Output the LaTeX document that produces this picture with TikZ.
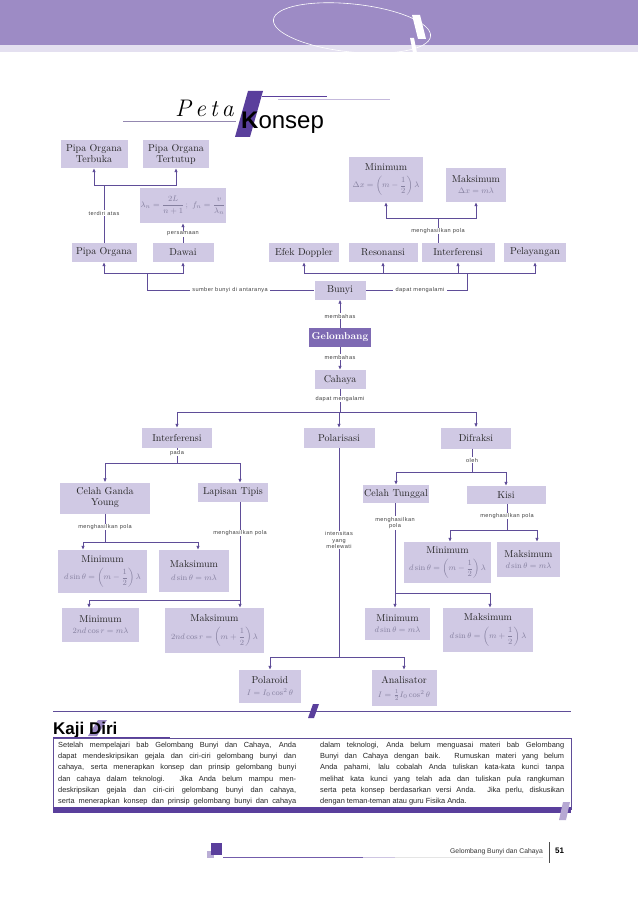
\documentclass[tikz,border=0pt]{standalone}
\usepackage{amsmath}
\usepackage{fontspec}
\setsansfont{Liberation Sans}
\newfontfamily\lblfont[LetterSpace=8]{Liberation Sans}
\usetikzlibrary{arrows.meta}
\definecolor{band}{HTML}{9D8BC5}
\definecolor{bandlight}{HTML}{E4E0F0}
\definecolor{boxfill}{HTML}{D0C9E4}
\definecolor{gelfill}{HTML}{7E6AB3}
\definecolor{linec}{HTML}{5F4D98}
\definecolor{dk}{HTML}{5A3F9C}
\definecolor{formc}{HTML}{85809F}
\newcommand{\fml}[1]{{\fontsize{8}{9}\selectfont\color{formc}$#1$}}
\begin{document}
\begin{tikzpicture}[x=1pt,y=-1pt,
 box/.style={fill=boxfill, inner sep=1pt, align=center, font=\fontsize{10}{11}\selectfont, text=black!85},
 lbl/.style={fill=white, inner xsep=2.5pt, inner ysep=0.8pt, font=\lblfont\fontsize{5.6}{6.6}\selectfont, text=black!75, align=center},
 conn/.style={draw=linec, line width=0.9pt},
 arr/.style={conn, -{Latex[length=4pt,width=3.6pt]}}]
\useasboundingbox (0,0) rectangle (638,912);
\fill[white] (0,0) rectangle (638,912);
% header
\fill[band] (0,0) rectangle (638,45);
\fill[bandlight] (0,45) rectangle (638,52);
\begin{scope}
\clip (0,0) rectangle (638,53);
\draw[white, line width=0.6pt, rotate around={-6:(352,28)}] (352,28) ellipse [x radius=79, y radius=24];
\end{scope}
\fill[white] (412,15) -- (420,15) -- (426,39) -- (418,39) -- cycle;
\fill[white] (410,38) -- (414,38) -- (417,53) -- (413,53) -- cycle;
% title
\draw[band!70!gray, line width=0.8pt] (123,121) -- (236,121);
\draw[band!60, line width=0.8pt] (278,99) -- (390,99);
\draw[dk, line width=0.8pt] (262,96) -- (327,96);
\fill[dk] (248,91) -- (263,91) -- (250,137) -- (235,137) -- cycle;
\node[anchor=base west, inner sep=0pt, font=\fontsize{24}{24}\selectfont\itshape] (peta) at (175,117) {P\hspace{4pt}e\hspace{4pt}t\hspace{4pt}a};
\node[anchor=base west, inner sep=0pt, font=\sffamily\fontsize{24}{24}\selectfont] (kons) at (241,129) {\textbf{K}onsep};
% nodes
\node[box, minimum width=67pt, minimum height=28pt] (pot) at (94,154) {Pipa Organa\\Terbuka};
\node[box, minimum width=66pt, minimum height=28pt] (pott) at (176,154) {Pipa Organa\\Tertutup};
\node[box, minimum width=81pt, minimum height=35pt] (fdawai) at (183,205.5) {\fml{\lambda_n=\dfrac{2L}{n+1}\,;\ f_n=\dfrac{v}{\lambda_n}}};
\node[box, minimum width=65pt, minimum height=19pt] (po) at (104,252.5) {Pipa Organa};
\node[box, minimum width=61pt, minimum height=19pt] (dawai) at (183,252.5) {Dawai};
\node[box, minimum width=70pt, minimum height=19pt] (efek) at (304,252.5) {Efek Doppler};
\node[box, minimum width=69pt, minimum height=19pt] (reso) at (383,252.5) {Resonansi};
\node[box, minimum width=73pt, minimum height=19pt] (intf1) at (458,252.5) {Interferensi};
\node[box, minimum width=62pt, minimum height=19pt] (pela) at (535,252.5) {Pelayangan};
\node[box, minimum width=74pt, minimum height=45pt] (min1) at (386,179.5) {Minimum\\[5pt]\fml{\Delta x=\left(m-\dfrac{1}{2}\right)\lambda}};
\node[box, minimum width=60pt, minimum height=34pt] (maks1) at (476,185) {Maksimum\\\fml{\Delta x=m\lambda}};
\node[box, minimum width=51pt, minimum height=19pt] (bunyi) at (340,290) {Bunyi};
\node[box, fill=gelfill, text=white, font=\bfseries\fontsize{10}{11}\selectfont, minimum width=62pt, minimum height=19pt] (gel) at (340,337.5) {Gelombang};
\node[box, minimum width=51pt, minimum height=19pt] (cahaya) at (340,379.5) {Cahaya};
\node[box, minimum width=70pt, minimum height=20pt] (intf2) at (177,438) {Interferensi};
\node[box, minimum width=71pt, minimum height=20pt] (polar) at (339,438) {Polarisasi};
\node[box, minimum width=70pt, minimum height=21pt] (difr) at (476,438) {Difraksi};
\node[box, minimum width=90pt, minimum height=31pt] (cgy) at (105,498) {Celah Ganda\\Young};
\node[box, minimum width=70pt, minimum height=19pt] (lt) at (233,492.5) {Lapisan Tipis};
\node[box, minimum width=65pt, minimum height=18pt] (ct) at (396,494) {Celah Tunggal};
\node[box, minimum width=79pt, minimum height=18pt] (kisi) at (506,495) {Kisi};
\node[box, minimum width=89pt, minimum height=43pt] (mincgy) at (102.5,571.5) {Minimum\\[5pt]\fml{d\sin\theta=\left(m-\dfrac{1}{2}\right)\lambda}};
\node[box, minimum width=70pt, minimum height=42pt] (makscgy) at (194,571) {Maksimum\\[2pt]\fml{d\sin\theta=m\lambda}};
\node[box, minimum width=77pt, minimum height=34pt] (minlt) at (100.5,625) {Minimum\\\fml{2nd\cos r=m\lambda}};
\node[box, minimum width=99pt, minimum height=45pt] (makslt) at (214.5,630.5) {Maksimum\\[5pt]\fml{2nd\cos r=\left(m+\dfrac{1}{2}\right)\lambda}};
\node[box, minimum width=87pt, minimum height=41pt] (mink) at (447.5,562.5) {Minimum\\[5pt]\fml{d\sin\theta=\left(m-\dfrac{1}{2}\right)\lambda}};
\node[box, minimum width=63pt, minimum height=35pt] (maksk) at (528.5,559.5) {Maksimum\\\fml{d\sin\theta=m\lambda}};
\node[box, minimum width=65pt, minimum height=32pt] (minct) at (397.5,624) {Minimum\\\fml{d\sin\theta=m\lambda}};
\node[box, minimum width=90pt, minimum height=44pt] (maksct) at (488,630) {Maksimum\\[5pt]\fml{d\sin\theta=\left(m+\dfrac{1}{2}\right)\lambda}};
\node[box, minimum width=62pt, minimum height=33pt] (polaroid) at (270,686.5) {Polaroid\\[1pt]\fml{I=I_0\cos^2\theta}};
\node[box, minimum width=65pt, minimum height=36pt] (anal) at (404,688) {Analisator\\[3pt]\fml{I=\frac{1}{2}I_0\cos^2\theta}};
% connectors
\coordinate (b1) at (104,185);
\draw[conn] (po.north) -- (b1);
\draw[arr] (b1) -| (pot.south);
\draw[arr] (b1) -| (pott.south);
\draw[arr] (dawai.north) -- (fdawai.south);
\coordinate (b2) at (147,273);
\draw[arr] (b2) -| (po.south);
\draw[arr] (b2) -| (dawai.south);
\draw[conn] (b2) |- (bunyi.west);
\coordinate (b3) at (467,273);
\draw[arr] (b3) -| (efek.south);
\draw[arr] (b3) -| (reso.south);
\draw[arr] (b3) -| (intf1.south);
\draw[arr] (b3) -| (pela.south);
\draw[conn] (b3) |- (bunyi.east);
\coordinate (b4) at (438,218);
\draw[conn] (438,0 |- intf1.north) -- (b4);
\draw[arr] (b4) -| (min1.south);
\draw[arr] (b4) -| (maks1.south);
\draw[arr] (gel.north) -- (bunyi.south);
\draw[arr] (gel.south) -- (cahaya.north);
\coordinate (b5) at (340,412);
\draw[conn] (cahaya.south) -- (b5);
\draw[arr] (b5) -| (intf2.north);
\draw[arr] (b5) -| (difr.north);
\draw[arr] (b5) -| (polar.north);
\coordinate (b6) at (177,463);
\draw[conn] (intf2.south) -- (b6);
\draw[arr] (b6) -| (cgy.north);
\draw[arr] (b6) -| (240,0 |- lt.north);
\coordinate (b7) at (105,542);
\draw[conn] (cgy.south) -- (b7);
\draw[arr] (b7) -| (83,0 |- mincgy.north);
\draw[arr] (b7) -| (198,0 |- makscgy.north);
\coordinate (b8) at (240,600);
\draw[conn] (240,0 |- lt.south) -- (b8);
\draw[arr] (b8) -| (89,0 |- minlt.north);
\draw[arr] (b8) -- (240,0 |- makslt.north);
\coordinate (b9) at (339,657);
\draw[conn] (polar.south) -- (b9);
\draw[arr] (b9) -| (polaroid.north);
\draw[arr] (b9) -| (anal.north);
\coordinate (b10) at (472,472);
\draw[conn] (472,0 |- difr.south) -- (b10);
\draw[arr] (b10) -| (ct.north);
\draw[arr] (b10) -| (kisi.north);
\coordinate (b11) at (395,593);
\draw[conn] (395,0 |- ct.south) -- (b11);
\draw[arr] (b11) -- (395,0 |- minct.north);
\draw[arr] (b11) -| (490,0 |- maksct.north);
\coordinate (b12) at (507,530);
\draw[conn] (507,0 |- kisi.south) -- (b12);
\draw[arr] (b12) -| (450,0 |- mink.north);
\draw[arr] (b12) -| (537,0 |- maksk.north);
% labels
\node[lbl] (l1) at (104,213) {terdiri atas};
\node[lbl] (l2) at (183,234) {persamaan};
\node[lbl] (l3) at (230,290) {sumber bunyi di antaranya};
\node[lbl] (l4) at (420,290) {dapat mengalami};
\node[lbl] (l5) at (438,231) {menghasilkan pola};
\node[lbl] (l6) at (340,316) {membahas};
\node[lbl] (l7) at (340,357) {membahas};
\node[lbl] (l8) at (340,399) {dapat mengalami};
\node[lbl] (l9) at (177,453) {pada};
\node[lbl] (l10) at (105,527) {menghasilkan pola};
\node[lbl] (l11) at (240,533) {menghasilkan pola};
\node[lbl] (l12) at (339,540) {intensitas\\yang\\melewati};
\node[lbl] (l13) at (472,460) {oleh};
\node[lbl] (l14) at (395,523) {menghasilkan\\pola};
\node[lbl] (l15) at (507,516) {menghasilkan pola};
% Kaji Diri section
\draw[linec, line width=0.8pt] (53,711) -- (571,711);
\fill[dk] (313,704) -- (319,704) -- (314,718) -- (308,718) -- cycle;
\fill[band] (98,720) -- (107,720) -- (97,736) -- (88,736) -- cycle;
\node[anchor=base west, inner sep=0pt, font=\sffamily\bfseries\fontsize{17}{17}\selectfont] (kaji) at (53,734) {Kaji Diri};
\draw[linec, line width=0.5pt] (53,738) rectangle (571,809);
\draw[dk, line width=1.4pt] (53,737.5) -- (170,737.5);
\fill[dk] (53,807) rectangle (571,813);
\fill[band!75] (563,802) -- (570,802) -- (566,820) -- (559,820) -- cycle;
\node[anchor=north west, inner sep=0pt, align=left, font=\sffamily\fontsize{7.4}{11.2}\selectfont, text=black!85] (colL) at (58,742) {%
\makebox[238pt][s]{Setelah mempelajari bab Gelombang Bunyi dan Cahaya, Anda}\\
\makebox[238pt][s]{dapat mendeskripsikan gejala dan ciri-ciri gelombang bunyi dan}\\
\makebox[238pt][s]{cahaya, serta menerapkan konsep dan prinsip gelombang bunyi}\\
\makebox[238pt][s]{dan cahaya dalam teknologi. Jika Anda belum mampu men-}\\
\makebox[238pt][s]{deskripsikan gejala dan ciri-ciri gelombang bunyi dan cahaya,}\\
\makebox[238pt][s]{serta menerapkan konsep dan prinsip gelombang bunyi dan cahaya}};
\node[anchor=north west, inner sep=0pt, align=left, font=\sffamily\fontsize{7.4}{11.2}\selectfont, text=black!85] (colR) at (320,742) {%
\makebox[244pt][s]{dalam teknologi, Anda belum menguasai materi bab Gelombang}\\
\makebox[244pt][s]{Bunyi dan Cahaya dengan baik. Rumuskan materi yang belum}\\
\makebox[244pt][s]{Anda pahami, lalu cobalah Anda tuliskan kata-kata kunci tanpa}\\
\makebox[244pt][s]{melihat kata kunci yang telah ada dan tuliskan pula rangkuman}\\
\makebox[244pt][s]{serta peta konsep berdasarkan versi Anda. Jika perlu, diskusikan}\\
\makebox[244pt][l]{dengan teman-teman atau guru Fisika Anda.}};
% footer
\fill[band!70] (207,851) rectangle (214,858);
\fill[dk] (211,843) rectangle (222,855);
\draw[dk!85, line width=1pt] (223,857) -- (363,857);
\draw[band!50, line width=1pt] (363,857) -- (395,857);
\draw[black!10, line width=1pt] (395,857) -- (543,857);
\node[anchor=base east, inner sep=0pt, font=\sffamily\fontsize{6.8}{7}\selectfont, text=black!80] (foot) at (543,853) {Gelombang Bunyi dan Cahaya};
\draw[black!70, line width=0.6pt] (549,842) -- (549,863);
\node[anchor=base west, inner sep=0pt, font=\sffamily\bfseries\fontsize{8}{8}\selectfont] (pg) at (555,853) {51};
\end{tikzpicture}
\end{document}
